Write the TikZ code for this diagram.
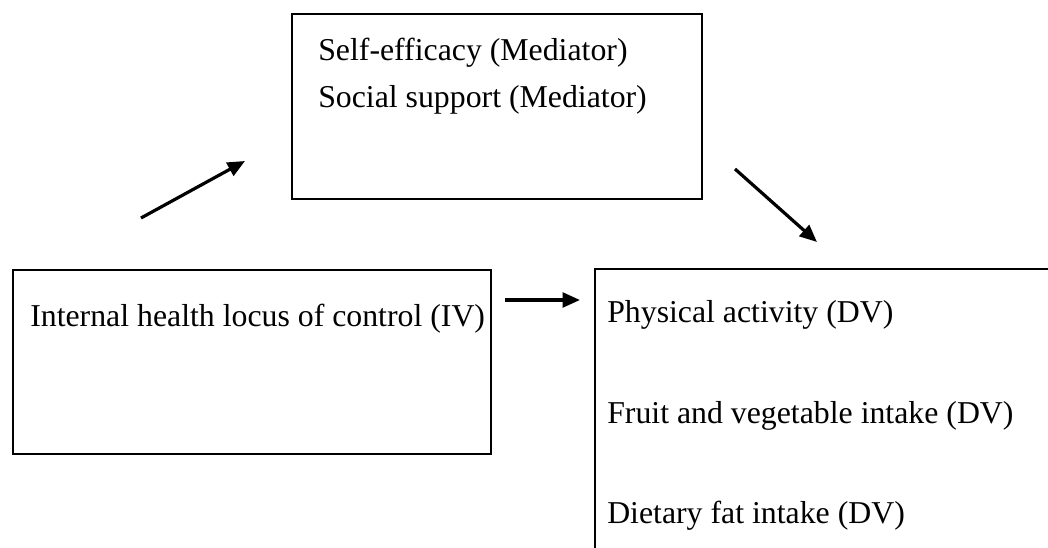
\documentclass[tikz,border=0pt]{standalone}
\usepackage{fontspec}
\setmainfont{Liberation Serif}
\usetikzlibrary{arrows.meta}
\begin{document}
\begin{tikzpicture}[x=0.75pt,y=-0.75pt,
  boxline/.style={draw=black, line width=1.5pt, inner sep=0pt, anchor=north west},
  lbl/.style={anchor=base west, inner sep=0pt, font=\fontsize{23.85}{28}\selectfont},
  arr/.style={line width=2.4pt, -{Triangle[length=13pt,width=11pt]}}]
\useasboundingbox (0,0) rectangle (1048,548);
% boxes
\node[boxline, minimum width=307.5pt, minimum height=138.75pt] (med) at (291,13) {};
\node[boxline, minimum width=358.5pt, minimum height=138pt] (iv) at (12,269) {};
\coordinate (dvtr) at (1048,269);
\coordinate (dvtl) at (595,269);
\coordinate (dvbl) at (595,548);
\draw[line width=1.5pt] (dvtr) -- (dvtl) -- (dvbl);
% texts
\node[lbl] (t1) at (318,61) {Self-efficacy (Mediator)};
\node[lbl] (t2) at (318,108) {Social support (Mediator)};
\node[lbl] (t3) at (30,327) {Internal health locus of control (IV)};
\node[lbl] (t4) at (607,323) {Physical activity (DV)};
\node[lbl] (t5) at (607,423) {Fruit and vegetable intake (DV)};
\node[lbl] (t6) at (607,523) {Dietary fat intake (DV)};
% arrows
\coordinate (a1s) at (141,218);
\coordinate (a1e) at (245,161);
\coordinate (a2s) at (735,169);
\coordinate (a2e) at (817,242);
\coordinate (a3s) at (505,300);
\coordinate (a3e) at (580,300);
\draw[arr] (a1s) -- (a1e);
\draw[arr] (a2s) -- (a2e);
\draw[arr] (a3s) -- (a3e);
\end{tikzpicture}
\end{document}
